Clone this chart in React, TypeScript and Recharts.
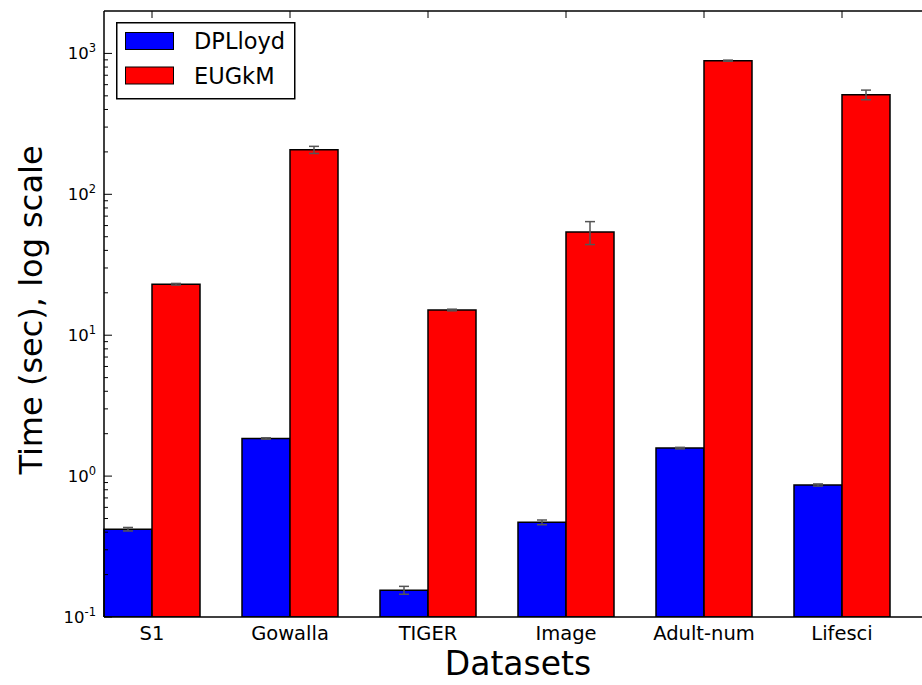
import React from 'react';
import {BarChart, Bar, XAxis, YAxis, ErrorBar, Legend, Label} from 'recharts';

const datasets = ['S1', 'Gowalla', 'TIGER', 'Image', 'Adult-num', 'Lifesci'];
const dplloyd = [0.42, 1.85, 0.155, 0.47, 1.58, 0.865];
const dplloydErr = [0.012, 0.02, 0.01, 0.018, 0.02, 0.015];
const eugkm = [23, 207, 15.1, 54, 888, 509];
const eugkmErr = [0.3, 12, 0.2, 10, 8, 40];

const majorTicks = [0.1, 1, 10, 100, 1000];
const minorTicks: number[] = [];
majorTicks.forEach((m) => {
    for (let k = 2; k <= 9; k++) {
        if (m * k < 2000) minorTicks.push(m * k);
    }
});
const yTicks = [...majorTicks, ...minorTicks].sort((a, b) => a - b);

const data = datasets.map((name, i) => ({
    name,
    dplloyd: dplloyd[i],
    dplloydErr: dplloydErr[i],
    eugkm: eugkm[i],
    eugkmErr: eugkmErr[i],
}));

const FONT = '"DejaVu Sans", sans-serif';

const YTick = (props: any) => {
    const {x, y, payload} = props;
    const v = payload.value;
    const isMajor = majorTicks.some((m) => Math.abs(m - v) < 1e-9);
    const axisX = x + 8;
    const exp = Math.round(Math.log10(v));
    return (
        <g>
            <line x1={axisX} x2={axisX + (isMajor ? 8 : 4)} y1={y} y2={y} stroke="#000" strokeWidth={1}/>
            {isMajor && (
                <text x={x} y={y} dy="0.35em" textAnchor="end" fontFamily={FONT} fontSize={16.5} fill="#000">
                    10<tspan dy={-7} fontSize={11.5}>{exp}</tspan>
                </text>
            )}
        </g>
    );
};

const BottomTick = (props: any) => {
    const {x, y, payload} = props;
    return (
        <g>
            <line x1={x} x2={x} y1={y - 9} y2={y - 16} stroke="#000" strokeWidth={1}/>
            <text x={x} y={y} dy="0.71em" textAnchor="middle" fontFamily={FONT} fontSize={19.5} fill="#000">
                {payload.value}
            </text>
        </g>
    );
};

const TopTick = (props: any) => {
    const {x, y} = props;
    return <line x1={x} x2={x} y1={y} y2={y + 7} stroke="#000" strokeWidth={1}/>;
};

const YLabel = (props: any) => {
    const {viewBox} = props;
    const cx = viewBox.x + 31;
    const cy = viewBox.y + viewBox.height / 2 - 4;
    return (
        <text x={cx} y={cy} transform={`rotate(-90, ${cx}, ${cy})`} textAnchor="middle" dominantBaseline="central"
              fontFamily={FONT} fontSize={32} fill="#000">
            Time (sec), log scale
        </text>
    );
};

const LegendBox = (props: any) => {
    const {payload} = props;
    return (
        <svg width={180} height={78} style={{display: 'block'}}>
            <rect x={0.75} y={0.75} width={178} height={76} fill="#fff" stroke="#000" strokeWidth={1.5}/>
            {(payload || []).map((entry: any, i: number) => (
                <g key={entry.value} transform={`translate(0, ${i * 34.5})`}>
                    <rect x={9.5} y={10.5} width={48} height={17} fill={entry.color} stroke="#000" strokeWidth={1}/>
                    <text x={78} y={19} dominantBaseline="central" fontFamily={FONT} fontSize={22.5} fill="#000">
                        {entry.value}
                    </text>
                </g>
            ))}
        </svg>
    );
};

const App: React.FC = () => {
    return (
        <div style={{position: 'absolute', left: 0, top: 0, width: 922, height: 685, overflow: 'hidden', background: '#fff'}}>
            <BarChart
                width={932}
                height={685}
                data={data}
                margin={{top: 0, right: 0, left: 0, bottom: 38}}
                barGap={0}
                barSize={48}
            >
                <XAxis
                    xAxisId="bottom"
                    dataKey="name"
                    height={30}
                    padding={{left: -21, right: 21}}
                    tickSize={0}
                    tickMargin={9}
                    tick={<BottomTick/>}
                    tickLine={false}
                    interval={0}
                    axisLine={{stroke: '#000', strokeWidth: 1.5}}
                >
                    <Label value="Datasets" position="bottom" offset={5} fontFamily={FONT} fontSize={33} fill="#000"/>
                </XAxis>
                <XAxis
                    xAxisId="top"
                    orientation="top"
                    dataKey="name"
                    height={11}
                    padding={{left: -21, right: 21}}
                    tickSize={0}
                    tickMargin={0}
                    tick={<TopTick/>}
                    tickLine={false}
                    interval={0}
                    axisLine={{stroke: '#000', strokeWidth: 1.5}}
                />
                <YAxis
                    width={104}
                    scale="log"
                    domain={[0.1, 2000]}
                    allowDataOverflow
                    ticks={yTicks}
                    interval={0}
                    tickSize={0}
                    tickMargin={8}
                    tick={<YTick/>}
                    tickLine={false}
                    axisLine={{stroke: '#000', strokeWidth: 1.5}}
                >
                    <Label content={<YLabel/>}/>
                </YAxis>
                <Legend
                    layout="horizontal"
                    verticalAlign="middle"
                    align="center"
                    content={<LegendBox/>}
                    wrapperStyle={{left: 116, top: 22, width: 180, height: 78}}
                />
                <Bar xAxisId="bottom" dataKey="dplloyd" name="DPLloyd" fill="#0000ff" stroke="#000" strokeWidth={1.5}
                     isAnimationActive={false}>
                    <ErrorBar dataKey="dplloydErr" width={5} stroke="#555" strokeWidth={1.5} isAnimationActive={false}/>
                </Bar>
                <Bar xAxisId="bottom" dataKey="eugkm" name="EUGkM" fill="#ff0000" stroke="#000" strokeWidth={1.5}
                     isAnimationActive={false}>
                    <ErrorBar dataKey="eugkmErr" width={5} stroke="#555" strokeWidth={1.5} isAnimationActive={false}/>
                </Bar>
            </BarChart>
        </div>
    );
};

export default App;
